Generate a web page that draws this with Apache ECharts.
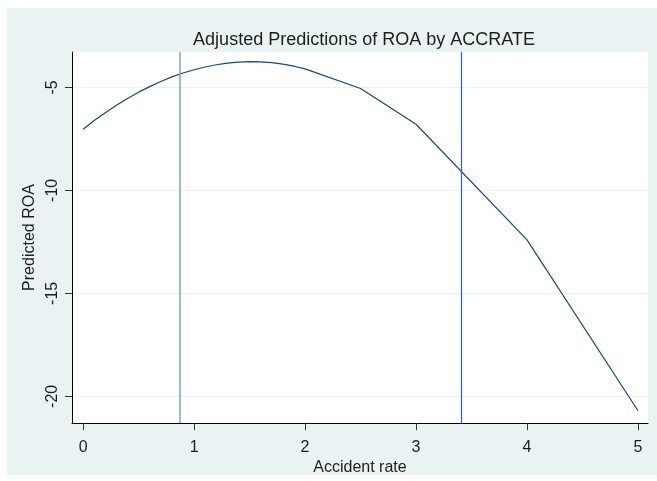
<!DOCTYPE html>
<html>
<head>
<meta charset="utf-8">
<script src="https://cdn.jsdelivr.net/npm/echarts@6/dist/echarts.min.js"></script>
<style>html,body{margin:0;padding:0;background:#fff}#c{width:657px;height:481px}</style>
</head>
<body>
<div id="c"></div>
<script>
// Data
const accRate = [0, 0.1, 0.2, 0.3, 0.4, 0.5, 0.6, 0.7, 0.8, 0.9, 1.0, 1.1, 1.2, 1.3, 1.4, 1.5, 1.6, 1.7, 1.8, 1.9, 2.0, 2.5, 3, 4, 5];
const predROA = [-7.03, -6.61, -6.23, -5.87, -5.54, -5.23, -4.96, -4.71, -4.49, -4.30, -4.14, -4.01, -3.90, -3.82, -3.77, -3.75, -3.76, -3.80, -3.87, -3.97, -4.10, -5.05, -6.79, -12.40, -20.70];
const refLines = [0.874, 3.414];
const xTicks = [0, 1, 2, 3, 4, 5];
const yTicks = [-20, -15, -10, -5];

const FONT = '"Liberation Sans", Arial, sans-serif';
const refColors = ['#7d9de0', '#2f5fd0'];
const refWidths = [1.5, 1.2];
const chart = echarts.init(document.getElementById('c'), null, {renderer: 'canvas'});
chart.setOption({
  animation: false,
  backgroundColor: '#ffffff',
  graphic: [{
    type: 'rect', z: -100, silent: true,
    shape: {x: 7, y: 8, width: 650, height: 467},
    style: {fill: '#eaf2f3'}
  }],
  title: {
    text: 'Adjusted Predictions of ROA by ACCRATE',
    left: 359, top: 26, textAlign: 'center',
    textStyle: {fontFamily: FONT, fontSize: 18, fontWeight: 'normal', color: '#1e1e1e'}
  },
  grid: {left: 72, top: 52, right: 9, bottom: 56, show: true, backgroundColor: '#ffffff', borderWidth: 0},
  xAxis: {
    type: 'value', min: -0.1, max: 5.09,
    name: 'Accident rate', nameLocation: 'middle', nameGap: 28,
    nameTextStyle: {fontFamily: FONT, fontSize: 16, color: '#1e1e1e'},
    axisLine: {show: true, onZero: false, lineStyle: {color: '#000', width: 1}},
    axisTick: {show: true, length: 7, customValues: xTicks, lineStyle: {color: '#333'}},
    axisLabel: {customValues: xTicks, margin: 16, fontFamily: FONT, fontSize: 16, color: '#1e1e1e'},
    splitLine: {show: false}
  },
  yAxis: {
    type: 'value', min: -21.3, max: -3.28,
    name: 'Predicted ROA', nameLocation: 'middle', nameGap: 22, nameRotate: 90,
    nameTextStyle: {fontFamily: FONT, fontSize: 16, color: '#1e1e1e'},
    axisLine: {show: true, onZero: false, lineStyle: {color: '#000', width: 1}},
    axisTick: {show: true, length: 7, customValues: yTicks, lineStyle: {color: '#333'}},
    axisLabel: {customValues: yTicks, rotate: 90, margin: 11, fontFamily: FONT, fontSize: 16, color: '#1e1e1e'},
    splitLine: {show: true, lineStyle: {color: '#eaf2f3', width: 1}}
  },
  series: [
    {
      type: 'line',
      data: accRate.map((x, i) => [x, predROA[i]]),
      showSymbol: false,
      lineStyle: {color: '#1a476f', width: 1.2},
      z: 3
    }
  ].concat(refLines.map((v, k) => ({
    type: 'line',
    data: [],
    color: refColors[k],
    markLine: {
      silent: true, symbol: 'none', label: {show: false},
      lineStyle: {color: refColors[k], width: refWidths[k], type: 'solid', opacity: 1},
      emphasis: {disabled: true},
      data: [{xAxis: v}]
    }
  })))
});
</script>
</body>
</html>
